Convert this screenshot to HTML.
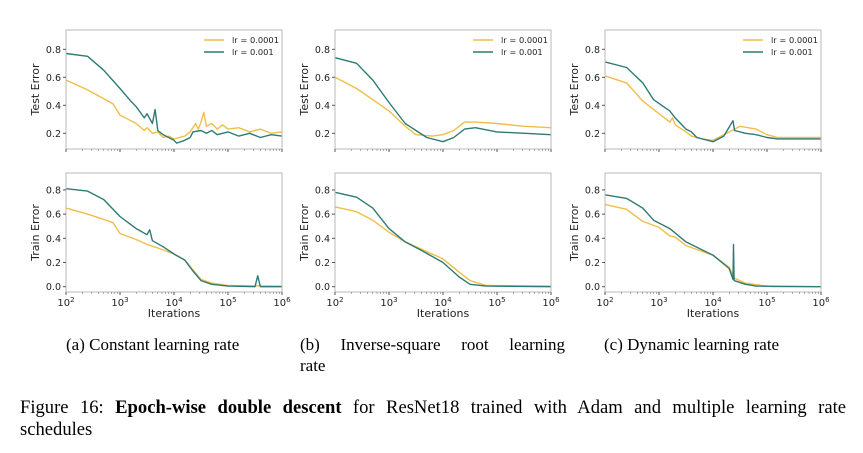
<!DOCTYPE html>
<html><head><meta charset="utf-8"><style>
body{margin:0;background:#fff;width:863px;height:453px;overflow:hidden;position:relative;font-family:"Liberation Serif",serif}
svg{position:absolute;left:0;top:0}
.cap{position:absolute;font-size:17px;color:#000;line-height:21px}
</style></head><body>
<svg id="fig" width="863" height="453"></svg>
<div class="cap" style="left:66px;top:334px">(a) Constant learning rate</div>
<div class="cap" style="left:300px;top:334px;width:265px;text-align:justify;text-align-last:justify">(b) Inverse-square root learning</div>
<div class="cap" style="left:300px;top:355px">rate</div>
<div class="cap" style="left:604px;top:334px">(c) Dynamic learning rate</div>
<div class="cap" style="left:20px;top:397px;width:826px;font-size:18.6px;line-height:22px;text-align:justify;text-align-last:justify">Figure 16: <b>Epoch-wise double descent</b> for ResNet18 trained with Adam and multiple learning rate</div>
<div class="cap" style="left:20px;top:419px;font-size:18.6px;line-height:22px">schedules</div>
<script>
const panelLefts=[66,335,605];
const xTicks=[2,3,4,5,6];
const yTicksTest=[0.2,0.4,0.6,0.8];
const yTicksTrain=[0.0,0.2,0.4,0.6,0.8];
// x = log10(iterations)
const aTestX_y=[2,2.4,2.87,3.0,3.3,3.45,3.5,3.6,3.7,3.8,3.9,4.0,4.1,4.2,4.3,4.35,4.4,4.45,4.5,4.55,4.6,4.7,4.8,4.9,5.0,5.2,5.4,5.6,5.8,6];
const aTestV_y=[0.58,0.51,0.41,0.33,0.27,0.22,0.24,0.20,0.21,0.17,0.18,0.16,0.17,0.18,0.21,0.24,0.27,0.23,0.28,0.35,0.25,0.27,0.23,0.26,0.23,0.24,0.21,0.23,0.20,0.21];
const aTestX_t=[2,2.4,2.7,3.0,3.2,3.3,3.45,3.5,3.6,3.65,3.7,3.8,3.9,4.0,4.05,4.2,4.3,4.35,4.5,4.6,4.7,4.8,5.0,5.2,5.4,5.6,5.8,6];
const aTestV_t=[0.77,0.75,0.65,0.52,0.43,0.39,0.31,0.34,0.27,0.37,0.22,0.19,0.17,0.15,0.13,0.15,0.17,0.21,0.22,0.20,0.22,0.19,0.21,0.18,0.20,0.17,0.19,0.18];
const aTrainX_y=[2,2.4,2.87,3,3.3,3.5,3.7,4,4.2,4.35,4.5,4.7,5,6];
const aTrainV_y=[0.65,0.6,0.53,0.44,0.39,0.35,0.32,0.27,0.22,0.14,0.06,0.03,0.01,0.005];
const aTrainX_t=[2,2.4,2.7,3,3.3,3.5,3.55,3.6,3.8,4,4.2,4.35,4.5,4.7,5,5.5,5.55,5.6,6];
const aTrainV_t=[0.81,0.79,0.72,0.58,0.48,0.43,0.47,0.38,0.33,0.27,0.22,0.13,0.05,0.02,0.005,0.0,0.09,0.0,0.0];
const bTestX_y=[2,2.4,2.7,3,3.3,3.5,3.8,4,4.2,4.4,4.6,5,5.5,6];
const bTestV_y=[0.60,0.52,0.44,0.36,0.25,0.19,0.18,0.19,0.22,0.28,0.28,0.27,0.25,0.24];
const bTestX_t=[2,2.4,2.7,3,3.3,3.5,3.7,4,4.2,4.4,4.6,5,6];
const bTestV_t=[0.74,0.70,0.58,0.42,0.27,0.22,0.17,0.14,0.17,0.23,0.24,0.21,0.19];
const bTrainX_y=[2,2.4,2.7,3,3.3,3.6,4,4.3,4.5,4.8,6];
const bTrainV_y=[0.66,0.62,0.55,0.45,0.37,0.31,0.23,0.12,0.05,0.01,0.005];
const bTrainX_t=[2,2.4,2.7,3,3.3,3.6,4,4.3,4.5,4.8,6];
const bTrainV_t=[0.78,0.74,0.65,0.48,0.37,0.30,0.2,0.08,0.02,0.005,0];
const cTestX_y=[2,2.4,2.7,3.0,3.2,3.25,3.3,3.5,3.6,3.8,4,4.2,4.35,4.5,4.8,5.0,5.2,6];
const cTestV_y=[0.61,0.56,0.43,0.34,0.28,0.31,0.26,0.21,0.18,0.16,0.15,0.19,0.22,0.25,0.23,0.19,0.17,0.17];
const cTestX_t=[2,2.4,2.7,2.9,3.2,3.3,3.5,3.6,3.7,4,4.2,4.37,4.4,4.6,4.8,5,5.2,6];
const cTestV_t=[0.71,0.67,0.56,0.44,0.36,0.31,0.23,0.21,0.17,0.14,0.18,0.29,0.22,0.20,0.19,0.17,0.16,0.16];
const cTrainX_y=[2,2.4,2.7,3,3.2,3.3,3.5,4,4.3,4.4,4.6,4.9,5.1,6];
const cTrainV_y=[0.68,0.64,0.54,0.49,0.42,0.41,0.34,0.26,0.16,0.07,0.03,0.01,0,0];
const cTrainX_t=[2,2.4,2.7,2.9,3.2,3.5,4,4.3,4.37,4.38,4.39,4.6,4.8,6];
const cTrainV_t=[0.76,0.73,0.65,0.55,0.48,0.37,0.26,0.15,0.06,0.35,0.05,0.02,0.005,0];

const panels=[
 {test:[[aTestX_y,aTestV_y],[aTestX_t,aTestV_t]],train:[[aTrainX_y,aTrainV_y],[aTrainX_t,aTrainV_t]]},
 {test:[[bTestX_y,bTestV_y],[bTestX_t,bTestV_t]],train:[[bTrainX_y,bTrainV_y],[bTrainX_t,bTrainV_t]]},
 {test:[[cTestX_y,cTestV_y],[cTestX_t,cTestV_t]],train:[[cTrainX_y,cTrainV_y],[cTrainX_t,cTrainV_t]]}];
const colors=['#f0be48','#2e7b74'];
const NS='http://www.w3.org/2000/svg';
const svg=document.getElementById('fig');
function mk(tag,attrs,parent){const e=document.createElementNS(NS,tag);for(const k in attrs)e.setAttribute(k,attrs[k]);(parent||svg).appendChild(e);return e;}
function txt(s,attrs,parent){const t=mk('text',attrs,parent);t.textContent=s;return t;}

panels.forEach((p,pi)=>{
 const L=panelLefts[pi],W=216;
 const xs=v=>L+(v-2)/4*W;
 const specs=[{top:30,bot:149,ymax:0.938,ymin:0.088,ticks:yTicksTest,data:p.test,label:'Test Error',kind:'test'},
              {top:173,bot:292,ymax:0.94,ymin:-0.044,ticks:yTicksTrain,data:p.train,label:'Train Error',kind:'train'}];
 specs.forEach(s=>{
  const g=mk('g',{});
  
  
  const ys=v=>s.bot-(v-s.ymin)/(s.ymax-s.ymin)*(s.bot-s.top);
  s.data.forEach((d,si)=>{
   const pts=d[0].map((x,i)=>xs(x).toFixed(1)+','+ys(d[1][i]).toFixed(1)).join(' ');
   const pl=mk('polyline',{points:pts,fill:'none',stroke:colors[si],'stroke-width':1.4,'stroke-linejoin':'round'},g);
   
   
  });
  const fr=mk('rect',{x:L,y:s.top,width:W,height:s.bot-s.top,fill:'none',stroke:'#b8b8b8','stroke-width':1},g);
  
  
  s.ticks.forEach(v=>{
   const y=ys(v);
   mk('line',{x1:L-3,x2:L,y1:y,y2:y,stroke:'#555'},g);
   const t=txt(v.toFixed(1),{x:L-5,y:y+3.5,'text-anchor':'end','font-size':9.5,'font-family':'DejaVu Sans, sans-serif',fill:'#222'},g);
   
   
  });
  xTicks.forEach(v=>{
   const x=xs(v);
   mk('line',{x1:x,x2:x,y1:s.bot,y2:s.bot+3,stroke:'#555'},g);
   if(v<6)for(let m=2;m<10;m++){const xm=xs(v+Math.log10(m));mk('line',{x1:xm,x2:xm,y1:s.bot,y2:s.bot+2,stroke:'#777','stroke-width':0.6},g);}
   if(s.kind==='train'){
    const t=mk('text',{x:x,y:s.bot+14,'text-anchor':'middle','font-size':10,'font-family':'DejaVu Sans, sans-serif',fill:'#222'},g);
    t.appendChild(document.createTextNode('10'));
    const sp=document.createElementNS(NS,'tspan');sp.setAttribute('dy','-4');sp.setAttribute('font-size','7');sp.textContent=String(v);t.appendChild(sp);
    
    
   }
  });
  const yt=txt(s.label,{x:0,y:0,transform:`translate(${L-27},${(s.top+s.bot)/2}) rotate(-90)`,'text-anchor':'middle','font-size':11,'font-family':'DejaVu Sans, sans-serif',fill:'#222'},g);
  
  
  if(s.kind==='train'){
   const xt=txt('Iterations',{x:L+W/2,y:317,'text-anchor':'middle','font-size':11,'font-family':'DejaVu Sans, sans-serif',fill:'#222'},g);
   
   
  }
  if(s.kind==='test'){
   ['lr = 0.0001','lr = 0.001'].forEach((lab,i)=>{
    const y=40+i*12;
    const lg=mk('g',{},g);
    
    
    mk('line',{x1:L+138,x2:L+158,y1:y,y2:y,stroke:colors[i],'stroke-width':1.5},lg);
    txt(lab,{x:L+166,y:y+3,'font-size':8.3,'font-family':'DejaVu Sans, sans-serif',fill:'#222'},lg);
   });
  }
 });
});
</script>
</body></html>
